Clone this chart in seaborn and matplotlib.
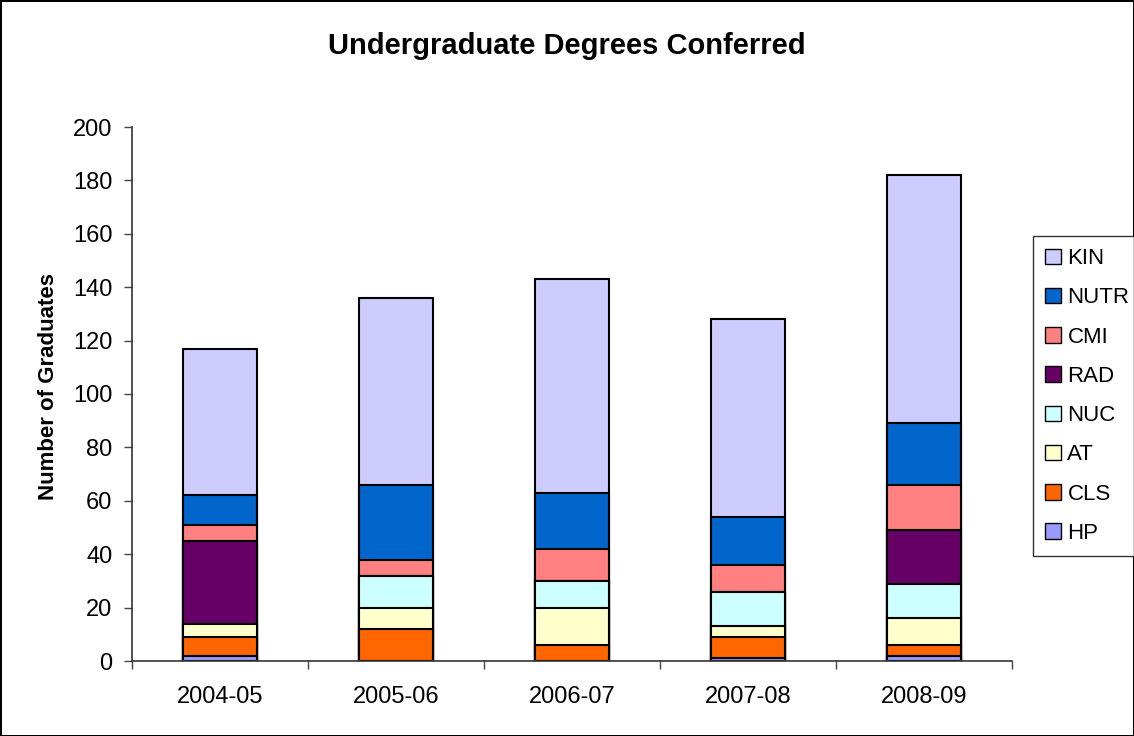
import seaborn as sns
import pandas as pd
import matplotlib.pyplot as plt
from matplotlib.patches import Patch

years = ["2004-05", "2005-06", "2006-07", "2007-08", "2008-09"]
# stacked from bottom to top
programs = ["HP", "CLS", "AT", "NUC", "RAD", "CMI", "NUTR", "KIN"]
hp = [2, 0, 0, 1, 2]
cls = [7, 12, 6, 8, 4]
at = [5, 8, 14, 4, 10]
nuc = [0, 12, 10, 13, 13]
rad = [31, 0, 0, 0, 20]
cmi = [6, 6, 12, 10, 17]
nutr = [11, 28, 21, 18, 23]
kin = [55, 70, 80, 74, 93]
colors = ["#9999FF", "#FF6600", "#FFFFCC", "#CCFFFF", "#660066",
          "#FF8080", "#0066CC", "#CCCCFF"]

sns.set_theme(style="white", rc={"text.color": "black", "axes.labelcolor": "black",
                                 "xtick.color": "black", "ytick.color": "black"})
plt.rcParams["font.family"] = ["Liberation Sans", "DejaVu Sans"]

data = pd.DataFrame({"HP": hp, "CLS": cls, "AT": at, "NUC": nuc, "RAD": rad,
                     "CMI": cmi, "NUTR": nutr, "KIN": kin}, index=years)
cum = data.cumsum(axis=1)

fig = plt.figure(figsize=(11.34, 7.36), dpi=100, edgecolor="black", linewidth=2)
ax = fig.add_axes([132 / 1134, 75 / 736, 880 / 1134, 534 / 736])

# draw cumulative totals from the top layer down so each layer shows its slice
for prog, col in reversed(list(zip(programs, colors))):
    df = pd.DataFrame({"year": years, "total": cum[prog].values})
    sns.barplot(data=df, x="year", y="total", color=col, width=0.42,
                edgecolor="black", linewidth=1.5, saturation=1, ax=ax)

ax.set_ylim(0, 200)
ax.set_xlim(-0.5, 4.5)
ax.set_yticks(range(0, 201, 20))
ax.set_xticks([x - 0.5 for x in range(6)], minor=True)
ax.tick_params(axis="x", which="major", length=0, labelsize=17, pad=18)
ax.tick_params(axis="x", which="minor", length=6, width=1, color="#444444",
               direction="out", bottom=True)
ax.tick_params(axis="y", length=6, width=1, color="#444444", direction="out",
               left=True, labelsize=17, pad=8)
sns.despine(ax=ax)
for s in ["left", "bottom"]:
    ax.spines[s].set_color("#333333")
    ax.spines[s].set_linewidth(1.2)

ax.set_xlabel("")
ax.set_ylabel("Number of Graduates", fontsize=16, fontweight="bold")
ax.yaxis.set_label_coords(-0.083, 0.514)
fig.suptitle("Undergraduate Degrees Conferred", fontsize=21, fontweight="bold",
             y=1 - 46 / 736, va="center")

handles = [Patch(facecolor=c, edgecolor="black", label=p)
           for p, c in reversed(list(zip(programs, colors)))]
leg = fig.legend(handles=handles, loc="upper left",
                 bbox_to_anchor=(1033 / 1134, 1 - 236 / 736),
                 frameon=True, fancybox=False, fontsize=16, handlelength=0.7,
                 handleheight=0.7, handletextpad=0.3, labelspacing=0.82,
                 borderpad=0.55, borderaxespad=0)
leg.get_frame().set_edgecolor("black")
leg.get_frame().set_linewidth(1)

fig.savefig("out.png", dpi=100)
